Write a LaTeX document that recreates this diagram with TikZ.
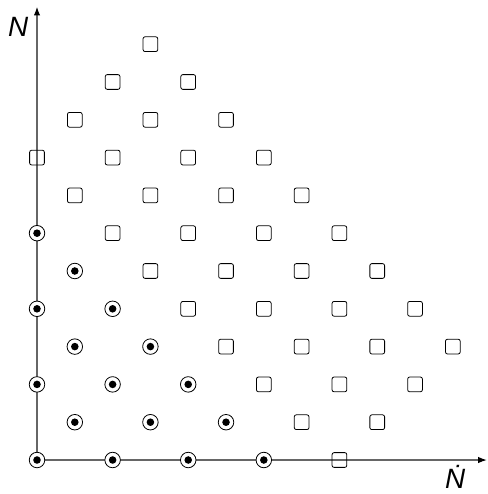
\documentclass[tikz,border=0pt]{standalone}
\usepackage{fontspec}
\setmainfont{Liberation Sans}
\usetikzlibrary{arrows.meta}
\begin{document}
\begin{tikzpicture}[x=1cm,y=1cm,
  sq/.style={draw, rounded corners=1.5pt, minimum size=0.39cm, inner sep=0pt, line width=0.6pt},
  circ/.style={draw, circle, fill=white, minimum size=0.41cm, inner sep=0pt, line width=0.6pt},
  ctr/.style={circle, fill=black, minimum size=0.2cm, inner sep=0pt},
  axis/.style={draw=black!60, line width=0.9pt, -{Latex[length=2.3mm,width=1.7mm,color=black]}},
  lab/.style={font=\itshape\fontsize{21}{24}\selectfont, inner sep=0pt}]
\useasboundingbox (-0.979,-0.899) rectangle (11.905,12.169);
\coordinate (O) at (0,0);
\coordinate (xend) at (11.9,0);
\coordinate (yend) at (0,11.99);
\draw[axis] (O) -- (xend);
\draw[axis] (O) -- (yend);
\foreach \i in {0,...,11} {
  \foreach \j in {0,...,11} {
    \pgfmathtruncatemacro\s{\i+\j}
    \pgfmathtruncatemacro\d{abs(\i-\j)}
    \ifodd\s\relax\else
      \ifnum\s<15
        \ifnum\d<9
          \ifnum\s<7
            \node[circ] (p-\i-\j) at (\i,\j) {};
            \node[ctr] (c-\i-\j) at (p-\i-\j.center) {};
          \else
            \node[sq] (p-\i-\j) at (\i,\j) {};
          \fi
        \fi
      \fi
    \fi
  }
}
\node[lab] (ylab) at (-0.5,11.45) {N};
\node[lab] (xlab) at (11.06,-0.45) {\.{N}};
\end{tikzpicture}
\end{document}
